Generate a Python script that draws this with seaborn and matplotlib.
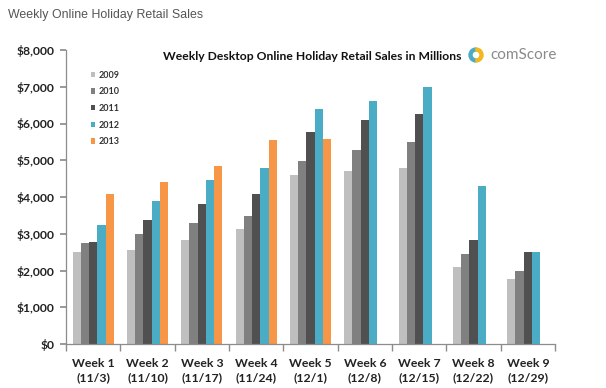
import seaborn as sns
import pandas as pd
import numpy as np
import matplotlib.pyplot as plt
from matplotlib.patches import Wedge

weeks = ["Week 1\n(11/3)", "Week 2\n(11/10)", "Week 3\n(11/17)", "Week 4\n(11/24)", "Week 5\n(12/1)",
         "Week 6\n(12/8)", "Week 7\n(12/15)", "Week 8\n(12/22)", "Week 9\n(12/29)"]
years = ["2009", "2010", "2011", "2012", "2013"]
sales_2009 = [2490, 2570, 2830, 3140, 4600, 4720, 4780, 2090, 1760]
sales_2010 = [2740, 2980, 3290, 3490, 4990, 5290, 5490, 2450, 1990]
sales_2011 = [2780, 3370, 3800, 4070, 5780, 6100, 6270, 2830, 2490]
sales_2012 = [3250, 3880, 4450, 4780, 6400, 6600, 7000, 4310, 2510]
sales_2013 = [4070, 4410, 4830, 5550, 5580, np.nan, np.nan, np.nan, np.nan]
colors = ["#BFBFBF", "#808080", "#505050", "#4BACC6", "#F79646"]

series = [sales_2009, sales_2010, sales_2011, sales_2012, sales_2013]
rows = []
for yr, vals in zip(years, series):
    for wk, v in zip(weeks, vals):
        rows.append({"Week": wk, "Year": yr, "Sales": v})
df = pd.DataFrame(rows)

sns.set_theme(style="white")
plt.rcParams['font.family'] = ['Lato', 'DejaVu Sans']

fig = plt.figure(figsize=(6.06, 3.88), dpi=100)
ax = fig.add_axes([66 / 606, 1 - 344 / 388, (555 - 66) / 606, (344 - 50) / 388])

sns.barplot(data=df, x="Week", y="Sales", hue="Year", hue_order=years, order=weeks,
            palette=dict(zip(years, colors)), width=0.76, saturation=1, ax=ax,
            linewidth=0, legend=True)

ax.set_xlim(-0.5, 8.5)
ax.set_ylim(0, 8000)
ax.set_yticks(range(0, 8001, 1000))
ax.set_yticklabels([f"${v:,}" for v in range(0, 8001, 1000)])
ax.set_xlabel("")
ax.set_ylabel("")
for s in ["top", "right"]:
    ax.spines[s].set_visible(False)
for s in ["left", "bottom"]:
    ax.spines[s].set_color("#8C8C8C")
    ax.spines[s].set_linewidth(0.9)

ax.set_xticks(np.arange(-0.5, 9, 1), minor=True)
ax.tick_params(axis="x", which="major", length=0, pad=10, labelsize=8.8, colors="#222222")
ax.tick_params(axis="x", which="minor", length=5, color="#8C8C8C", direction="out", bottom=True)
ax.tick_params(axis="y", length=4, direction="out", left=True, labelsize=8.7, pad=4,
               colors="#8C8C8C", labelcolor="#222222")
for lbl in ax.get_xticklabels():
    lbl.set_fontweight("bold")
    lbl.set_linespacing(1.35)
for lbl in ax.get_yticklabels():
    lbl.set_fontweight("bold")

leg = ax.legend(loc="upper left", bbox_to_anchor=(86 / 606, 1 - 66 / 388),
                bbox_transform=fig.transFigure, frameon=False, fontsize=6.5,
                handlelength=0.55, handleheight=0.55, handletextpad=0.4,
                labelspacing=0.85, borderpad=0)
for t in leg.get_texts():
    t.set_fontweight("bold")
    t.set_color("#333333")

fig.text(8 / 606, 1 - 15 / 388, "Weekly Online Holiday Retail Sales", fontsize=8.9,
         color="#555555", va="center", ha="left", family=["Liberation Sans", "DejaVu Sans"])
fig.text(163 / 606, 1 - 56 / 388, "Weekly Desktop Online Holiday Retail Sales in Millions",
         fontsize=8.7, fontweight="bold", color="#111111", va="center", ha="left")

# comScore logo
cx, cy, r = 476, 388 - 55, 7
fig.patches.append(Wedge((cx, cy), r, 90, 270, width=3, color="#4BACC6",
                         transform=None, figure=fig))
fig.patches.append(Wedge((cx, cy), r, -90, 90, width=3, color="#F2B81E",
                         transform=None, figure=fig))
fig.text(490 / 606, 1 - 55 / 388, "comScore", fontsize=11, color="#8A8A8A",
         va="center", ha="left")

fig.savefig("out.png", dpi=100)
